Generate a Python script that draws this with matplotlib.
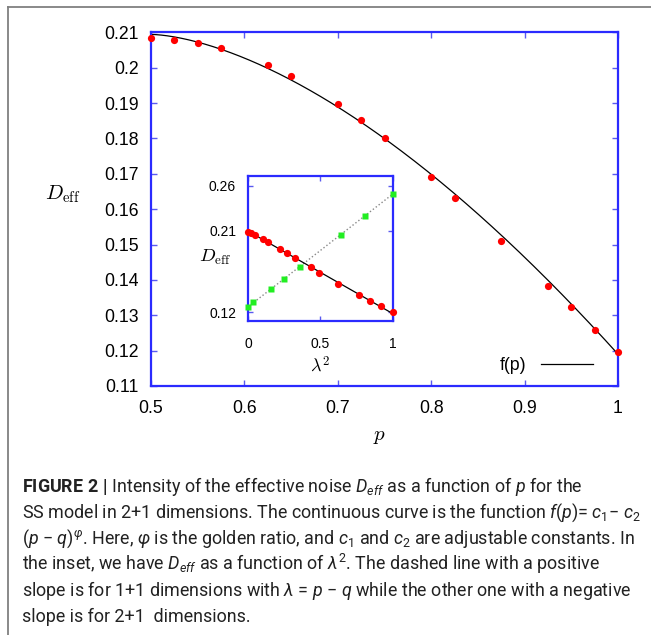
import numpy as np
import matplotlib
matplotlib.use("Agg")
import matplotlib.pyplot as plt
from matplotlib.lines import Line2D
from matplotlib.ticker import FormatStrFormatter

plt.rcParams['font.family'] = ['Liberation Sans', 'DejaVu Sans']
plt.rcParams['mathtext.fontset'] = 'custom'
plt.rcParams['mathtext.rm'] = 'Roboto'
plt.rcParams['mathtext.it'] = 'Roboto:italic'
plt.rcParams['mathtext.bf'] = 'Roboto:bold'

# ---- main panel data (2+1 dimensions) ----
p_vals = [0.5, 0.525, 0.55, 0.575, 0.625, 0.65, 0.70, 0.725, 0.75, 0.80,
          0.825, 0.875, 0.925, 0.95, 0.975, 1.0]
d_vals = [0.2083, 0.2078, 0.2071, 0.2055, 0.2007, 0.1976, 0.1898, 0.1853,
          0.1802, 0.1690, 0.1631, 0.1510, 0.1384, 0.1322, 0.1259, 0.1197]
# fit f(p) = c1 - c2 (p - q)^phi, q = 1 - p
c1 = 0.2094
c2 = 0.0904
phi = (1 + 5 ** 0.5) / 2

# ---- inset data ----
lam2_21 = [0.0, 0.021, 0.049, 0.106, 0.141, 0.222, 0.273, 0.326, 0.437,
           0.494, 0.626, 0.765, 0.841, 0.919, 1.0]
d_21 = [0.2086, 0.2078, 0.2060, 0.2012, 0.1979, 0.1899, 0.1855, 0.1806,
        0.1696, 0.1634, 0.1513, 0.1392, 0.1329, 0.1266, 0.1204]
lam2_11 = [0.0, 0.037, 0.157, 0.252, 0.36, 0.642, 0.81, 1.0]
d_11 = [0.1263, 0.1310, 0.1453, 0.1571, 0.1704, 0.2060, 0.2269, 0.2508]

main_xticks = [0.5, 0.6, 0.7, 0.8, 0.9, 1.0]
main_yticks = [0.11, 0.12, 0.13, 0.14, 0.15, 0.16, 0.17, 0.18, 0.19, 0.20, 0.21]
inset_xticks = [0, 0.5, 1]
inset_yticks = [0.12, 0.21, 0.26]

caption_lines = [
    r"$\mathbf{FIGURE\ 2\ |}$ Intensity of the effective noise $D_{eff}$ as a function of $p$ for the",
    r"SS model in 2+1 dimensions. The continuous curve is the function $f(p)$= $c_1$− $c_2$",
    r"($p$ − $q$)$^{\varphi}$. Here, $\varphi$ is the golden ratio, and $c_1$ and $c_2$ are adjustable constants. In",
    r"the inset, we have $D_{eff}$ as a function of $\lambda^2$. The dashed line with a positive",
    r"slope is for 1+1 dimensions with $\lambda$ = $p$ − $q$ while the other one with a negative",
    r"slope is for 2+1  dimensions.",
]

W, H = 651, 635
fig = plt.figure(figsize=(W / 100, H / 100), dpi=100)

SPINE = '#2b2bff'
TICKC = '#5a5af0'

def fx(px):
    return px / W

def fy(py):
    return 1 - py / H

# main axes
ax = fig.add_axes([fx(151), fy(386), fx(618) - fx(151), fy(32.3) - fy(386)])
pc = np.linspace(0.5, 1.0, 400)
ax.plot(pc, c1 - c2 * (2 * pc - 1) ** phi, color='black', lw=0.9, label='f(p)', zorder=2)
ax.plot(p_vals, d_vals, 'o', color='#ff0000', ms=5.2, mec='none', zorder=3, clip_on=False)
ax.set_xlim(0.5, 1.0)
ax.set_ylim(0.11, 0.21)
ax.set_xticks(main_xticks)
ax.set_yticks(main_yticks)
ax.xaxis.set_major_formatter(FormatStrFormatter('%g'))
ax.yaxis.set_major_formatter(FormatStrFormatter('%g'))
ax.tick_params(direction='in', top=True, right=True, length=4, width=1,
               color=TICKC, labelsize=12.7, labelcolor='black')
ax.tick_params(axis='x', pad=10)
ax.tick_params(axis='y', pad=9)
for s in ax.spines.values():
    s.set_color(SPINE)
    s.set_linewidth(1.6)
leg = ax.legend(loc='center right', bbox_to_anchor=((593 - 151) / 467, (386 - 366) / 353.7),
                frameon=False, borderpad=0, borderaxespad=0, markerfirst=False,
                handlelength=2.95, handletextpad=0.8, fontsize=12.7)

fig.text(fx(63), fy(194), r'$D_{\rm eff}$', math_fontfamily='cm', fontsize=15,
         ha='center', va='center')
fig.text(fx(380), fy(436), r'$p$', math_fontfamily='cm', fontsize=15,
         ha='center', va='center')

# inset axes
ai = fig.add_axes([fx(248), fy(320.7), fx(392.5) - fx(248), fy(175.7) - fy(320.7)])
ai.plot([0, 1], np.polyval(np.polyfit(lam2_11, d_11, 1), [0, 1]), ':', color='#888888', lw=1.0, zorder=2)
ai.plot([0, 1], np.polyval(np.polyfit(lam2_21, d_21, 1), [0, 1]), '-', color='black', lw=0.9, zorder=2)
ai.plot(lam2_21, d_21, 'o', color='#ff0000', ms=5.2, mec='none', zorder=3, clip_on=False)
ai.plot(lam2_11, d_11, 's', color='#22ee22', ms=3.8, mec='none', zorder=3, clip_on=False)
ai.set_xlim(0, 1)
ai.set_ylim(0.1107, 0.2711)
ai.set_xticks(inset_xticks)
ai.set_yticks(inset_yticks)
ai.xaxis.set_major_formatter(FormatStrFormatter('%g'))
ai.yaxis.set_major_formatter(FormatStrFormatter('%g'))
ai.tick_params(direction='in', top=True, right=True, length=3.5, width=1,
               color=TICKC, labelsize=10, labelcolor='black')
ai.tick_params(axis='x', pad=11.5)
ai.tick_params(axis='y', pad=8.6)
for s in ai.spines.values():
    s.set_color(SPINE)
    s.set_linewidth(1.6)
fig.text(fx(215), fy(257), r'$D_{\rm eff}$', math_fontfamily='cm', fontsize=13.5,
         ha='center', va='center')
fig.text(fx(320), fy(365), r'$\lambda^2$', math_fontfamily='cm', fontsize=13,
         ha='center', va='center')

# frame lines
fig.add_artist(Line2D([fx(8), fx(8)], [0, fy(6.5)], transform=fig.transFigure,
                      color='#808080', lw=1.3))
fig.add_artist(Line2D([fx(8), 1], [fy(6.5), fy(6.5)], transform=fig.transFigure,
                      color='#808080', lw=1.3))

# caption
base = 492
for i, line in enumerate(caption_lines):
    fig.text(fx(22), fy(base + 25.9 * i), line, family=['Roboto', 'DejaVu Sans'],
             fontsize=12.9, ha='left', va='baseline', color='#222222',
             math_fontfamily='custom')

fig.savefig('out.png', dpi=100)
